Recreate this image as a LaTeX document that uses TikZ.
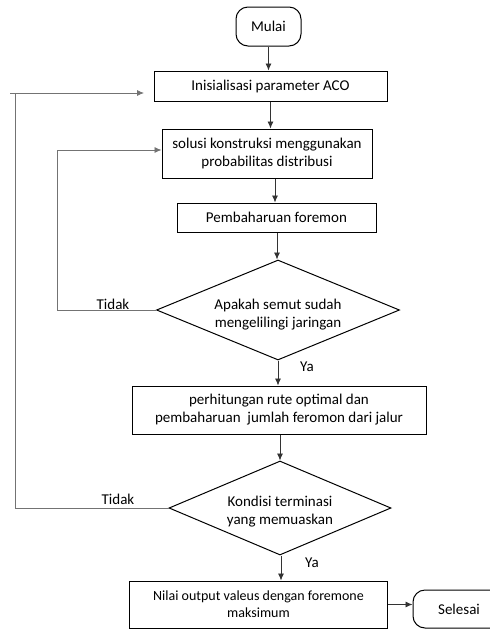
\documentclass[tikz,border=0pt]{standalone}
\usepackage{fontspec}
\setmainfont{Carlito}
\usetikzlibrary{shapes.geometric,arrows.meta}
\begin{document}
\begin{tikzpicture}[x=1pt,y=-1pt,
  font=\fontsize{15}{18}\selectfont,
  box/.style={draw=black,line width=1pt,align=center,inner sep=2pt},
  term/.style={draw=black,line width=1pt,rounded corners=12pt,align=center},
  dec/.style={draw=black,line width=1pt,diamond,inner sep=0pt},
  dtext/.style={align=center,inner sep=0pt},
  arr/.style={draw=black!80,line width=0.8pt,-{Latex[length=7pt,width=6pt]}},
  loopln/.style={draw=black!55,line width=0.9pt},
  lbl/.style={inner sep=0pt}]
\fill[white] (0,0) rectangle (490,630);
\useasboundingbox (0,0) rectangle (490,630);

\node[term,minimum width=65pt,minimum height=39pt] (mulai) at (268.5,26.5) {Mulai};
\node[box,minimum width=233pt,minimum height=30pt] (init) at (270.5,86) {Inisialisasi parameter ACO};
\node[box,minimum width=210pt,minimum height=49pt] (sol) at (267,153.5) {solusi konstruksi menggunakan\\probabilitas distribusi};
\node[box,minimum width=199pt,minimum height=29pt] (pemb) at (276.5,217.5) {Pembaharuan foremon};
\node[dec,minimum width=243pt,minimum height=100pt] (d1) at (278,310) {};
\node[dtext] (d1t) at ([yshift=-5pt]d1.center) {Apakah semut sudah\\mengelilingi jaringan};
\node[box,minimum width=294pt,minimum height=48pt] (perh) at (279,410) {perhitungan rute optimal dan\\pembaharuan\ \ jumlah feromon dari jalur};
\node[dec,minimum width=222pt,minimum height=94pt] (d2) at (280,508) {};
\node[dtext] (d2t) at ([yshift=-4pt]d2.center) {Kondisi terminasi\\yang memuaskan};
\node[box,minimum width=258pt,minimum height=47pt,font=\fontsize{14}{17}\selectfont] (nilai) at (258.5,604.5) {Nilai output valeus dengan foremone\\maksimum};
\node[term,minimum width=92pt,minimum height=38pt] (selesai) at (459,609) {Selesai};

\node[lbl] (t1) at (113,304) {Tidak};
\node[lbl] (t2) at (118,499) {Tidak};
\node[lbl] (y1) at (307,367) {Ya};
\node[lbl] (y2) at (312,563) {Ya};

\draw[arr] (mulai.south) -- (mulai.south |- init.north);
\draw[arr] (init.south) -- (init.south |- sol.north);
\draw[arr] ([xshift=8pt]sol.south) -- ([xshift=8pt]sol.south |- pemb.north);
\draw[arr] ([xshift=0.5pt]pemb.south) -- ([xshift=0.5pt]pemb.south |- d1.north);
\draw[arr] (d1.south) -- (d1.south |- perh.north);
\draw[arr] ([xshift=1pt]perh.south) -- ([xshift=1pt]perh.south |- d2.north);
\draw[arr] ([xshift=1pt]d2.south) -- ([xshift=1pt]d2.south |- nilai.north);
\draw[arr] (nilai.east) -- (selesai.west |- nilai.east);

\coordinate (c1) at (57,310);
\coordinate (c2) at (57,150);
\draw[loopln] (d1.west) -- (c1) -- (c2);
\draw[arr,draw=black!55] (c2) -- (c2 -| sol.west);

\coordinate (o1) at (15,508);
\coordinate (o2) at (15,93);
\coordinate (o3) at (10,93);
\coordinate (o4) at (144,93);
\draw[loopln] (d2.west) -- (o1) -- (o2);
\draw[arr,draw=black!55] (o3) -- (o4);
\end{tikzpicture}
\end{document}
